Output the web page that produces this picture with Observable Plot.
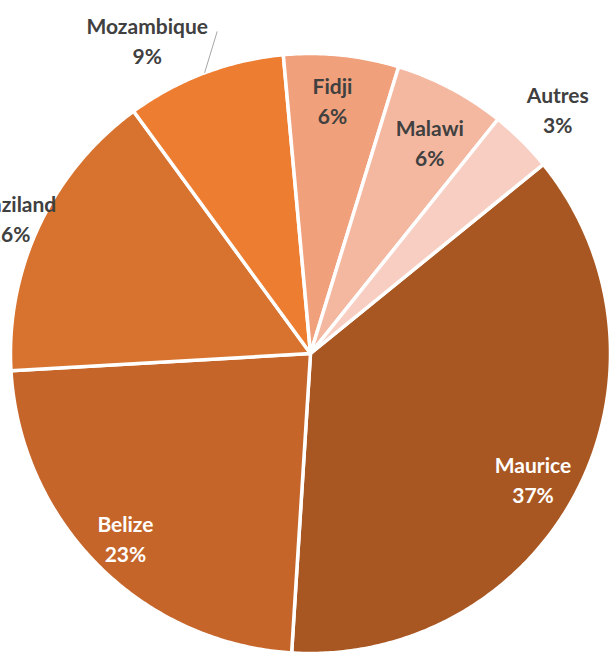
<!DOCTYPE html>
<html><head><meta charset="utf-8">
<script src="https://cdn.jsdelivr.net/npm/d3@7"></script>
<script src="https://cdn.jsdelivr.net/npm/@observablehq/plot@0.6"></script>
<style>body{margin:0;background:#fff;overflow:hidden}</style>
</head><body><div id="chart"></div>
<script>
const countries = ["Maurice", "Belize", "Swaziland", "Mozambique", "Fidji", "Malawi", "Autres"];
const shares = [36.9, 23.1, 15.9, 8.6, 6.2, 6.0, 3.4];
const percentLabels = ["37%", "23%", "16%", "9%", "6%", "6%", "3%"];
const sliceColors = ["#A95722", "#C5652A", "#D8732F", "#ED7D31", "#F0A07B", "#F4B8A0", "#F8CEC2"];
const labelColors = ["#ffffff", "#ffffff", "#404040", "#404040", "#404040", "#404040", "#404040"];

// label placement (radius as fraction of pie radius, angular shift in degrees)
const placement = {
  Maurice: {r: 0.85, shift: 2}, Belize: {r: 0.87, shift: 0}, Swaziland: {r: 1.1, shift: -1},
  Mozambique: {r: 1.18, shift: -6.8}, Fidji: {r: 0.85, shift: -1}, Malawi: {r: 0.81, shift: 1.5},
  Autres: {r: 1.16, shift: 0.5}
};
const startAngle = 50.9; // degrees clockwise from 12 o'clock
const total = d3.sum(shares);
const rad = a => a * Math.PI / 180;

const slices = [];
let acc = startAngle;
countries.forEach((name, i) => {
  const a0 = acc, a1 = acc + shares[i] / total * 360;
  acc = a1;
  slices.push({name, a0, a1, mid: (a0 + a1) / 2, i});
});

const polyPts = [];
slices.forEach(s => {
  polyPts.push({name: s.name, color: sliceColors[s.i], x: 0, y: 0});
  const n = Math.max(2, Math.ceil((s.a1 - s.a0) / 0.5));
  for (let k = 0; k <= n; k++) {
    const a = rad(s.a0 + (s.a1 - s.a0) * k / n);
    polyPts.push({name: s.name, color: sliceColors[s.i], x: Math.sin(a), y: Math.cos(a)});
  }
});

const labels = slices.map(s => {
  const p = placement[s.name];
  const a = rad(s.mid + p.shift);
  return {name: s.name, text: s.name + "\n" + percentLabels[s.i], x: p.r * Math.sin(a), y: p.r * Math.cos(a), color: labelColors[s.i]};
});

const moz = slices.find(s => s.name === "Mozambique");
const mozLabel = labels.find(l => l.name === "Mozambique");
const leader = [{
  x1: Math.sin(rad(moz.mid)), y1: Math.cos(rad(moz.mid)),
  x2: mozLabel.x + 70 / 300, y2: mozLabel.y + 8 / 300
}];

const chart = Plot.plot({
  width: 610,
  height: 653,
  x: {domain: [-1, 1], range: [10, 610], axis: null},
  y: {domain: [-1, 1], range: [653, 53], axis: null},
  style: {fontFamily: "Lato, Carlito, 'Open Sans', sans-serif", background: "#fff"},
  marks: [
    Plot.line(polyPts, {x: "x", y: "y", z: "name", fill: "color", stroke: "#ffffff", strokeWidth: 3.5, strokeLinejoin: "round", curve: "linear-closed"}),
    Plot.link(leader, {x1: "x1", y1: "y1", x2: "x2", y2: "y2", stroke: "#a6a6a6", strokeWidth: 1}),
    Plot.text(labels, {x: "x", y: "y", text: "text", fill: "color", fontSize: 21, fontWeight: "bold", lineHeight: 30 / 21})
  ]
});
document.getElementById("chart").append(chart);
</script>
</body></html>
